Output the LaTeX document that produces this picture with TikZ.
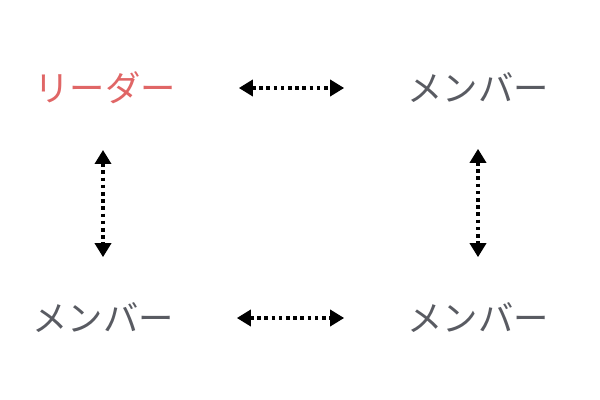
\documentclass[tikz,border=0pt]{standalone}
\usepackage{fontspec}
\newfontfamily\jpfont{Noto Sans CJK JP}
\usetikzlibrary{arrows.meta}

\tikzset{every picture/.style={line width=0.75pt}}
\tikzset{
  role/.style={inner sep=0pt, font=\jpfont\fontsize{26.5}{26.5}\selectfont, text={rgb, 255:red, 89; green, 91; blue, 98 }},
  leader/.style={role, text={rgb, 255:red, 224; green, 102; blue, 102 }},
  link/.style={line width=2.8pt, dash pattern={on 2.8pt off 2.6pt}, {Triangle[length=10.5pt,width=12pt]}-{Triangle[length=10.5pt,width=12pt]}},
}

\begin{document}
\begin{tikzpicture}[x=0.75pt,y=0.75pt,yscale=-1,xscale=1]
	\useasboundingbox (0,0) rectangle (600,400);

	% Text Node
	\node[leader] (ldr) at (105,88) {リーダー};
	% Text Node
	\node[role] (mtr) at (478,88) {メンバー};
	% Text Node
	\node[role] (mbl) at (103,318) {メンバー};
	% Text Node
	\node[role] (mbr) at (478,318) {メンバー};

	%Straight Lines
	\draw [link, shorten <=47pt, shorten >=47pt]  (ldr.east) -- (mtr.west) ;
	\draw [link, shorten <=47pt, shorten >=47pt]  (mbl.east) -- (mbr.west) ;
	%Straight Lines
	\draw [link, shorten <=34pt, shorten >=34pt]  (ldr.south -| mbl) -- (mbl.north) ;
	\draw [link, shorten <=34pt, shorten >=34pt]  (mtr.south) -- (mbr.north) ;

\end{tikzpicture}
\end{document}
